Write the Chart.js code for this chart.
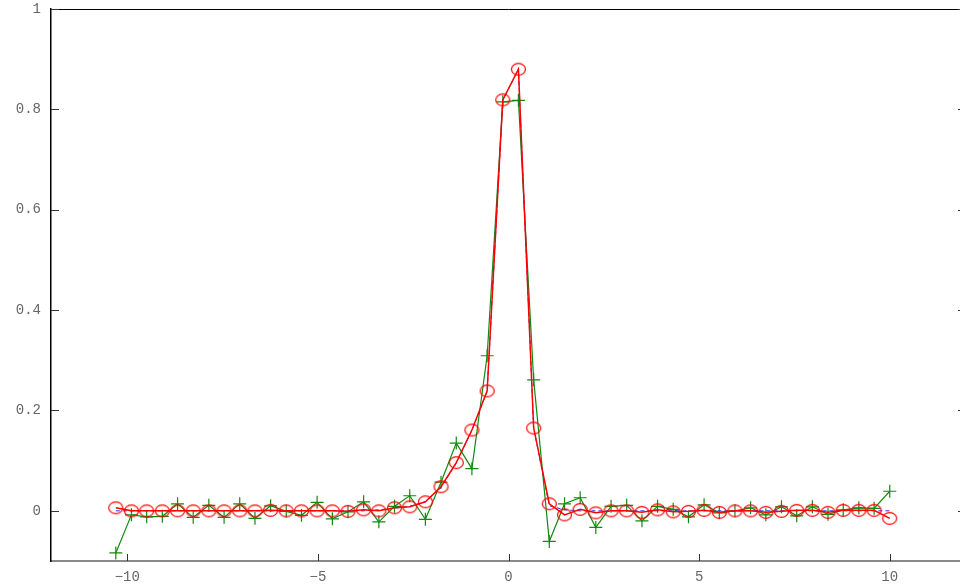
<!DOCTYPE html>
<html>
<head>
<meta charset="utf-8">
<script src="https://cdn.jsdelivr.net/npm/chart.js@4.4.1/dist/chart.umd.min.js"></script>
<style>
  html, body { margin: 0; padding: 0; background: #fff; overflow: hidden; }
  #wrap { width: 980px; height: 585px; }
</style>
</head>
<body>
<div id="wrap"><canvas id="plot" width="980" height="585"></canvas></div>
<script>
// sample positions
const xs = [-10.3, -9.89, -9.49, -9.08, -8.68, -8.27, -7.86, -7.46, -7.05, -6.65,
  -6.24, -5.83, -5.43, -5.02, -4.62, -4.21, -3.8, -3.4, -2.99, -2.59,
  -2.18, -1.77, -1.37, -0.96, -0.56, -0.15, 0.26, 0.66, 1.07, 1.47,
  1.88, 2.29, 2.69, 3.1, 3.5, 3.91, 4.32, 4.72, 5.13, 5.53,
  5.94, 6.35, 6.75, 7.16, 7.56, 7.97, 8.38, 8.78, 9.19, 9.59, 10];

// noisy samples (green +)
const noisy = [-0.084, -0.008, -0.012, -0.011, 0.014, -0.013, 0.011, -0.013, 0.014, -0.015,
  0.01, -0.001, -0.009, 0.017, -0.016, -0.002, 0.018, -0.022, 0.009, 0.03,
  -0.017, 0.057, 0.135, 0.084, 0.309, 0.815, 0.818, 0.261, -0.061, 0.014,
  0.026, -0.033, 0.009, 0.011, -0.02, 0.009, 0.003, -0.012, 0.012, -0.004,
  0, 0.006, -0.008, 0.008, -0.01, 0.008, -0.007, 0.002, 0.006, 0.005, 0.039];

// estimate (red o)
const est = [0.006, 0, 0, 0, 0, 0, 0, 0, 0, 0,
  0.001, 0, 0, 0, 0, -0.001, 0.002, 0, 0.006, 0.008,
  0.018, 0.048, 0.096, 0.161, 0.239, 0.819, 0.88, 0.165, 0.014, -0.008,
  0.003, -0.004, 0, 0, -0.003, 0.002, -0.002, -0.001, 0.001, -0.003,
  0, 0, -0.003, -0.001, 0.001, 0.001, -0.003, 0.001, 0.001, 0.001, -0.015];

// true signal (blue dashed)
const truth = [0, 0, 0, 0, 0, 0, 0, 0, 0, 0,
  0, 0, 0, 0, 0, 0, 0, 0.002, 0.005, 0.009,
  0.018, 0.046, 0.095, 0.16, 0.238, 0.818, 0.88, 0.165, 0.01, 0.002,
  0, 0, 0, 0, 0, 0, 0, 0, 0, 0,
  0, 0, 0, 0, 0, 0, 0, 0, 0, 0, 0];

const xTicks = [-10, -5, 0, 5, 10];
const xTickLabels = ['\u221210', '\u22125', '0', '5', '10'];
const yTicks = [0, 0.2, 0.4, 0.6, 0.8, 1];
const yTickLabels = ['0', '0.2', '0.4', '0.6', '0.8', '1'];

const pts = ys => xs.map((x, i) => ({ x: x, y: ys[i] }));

// open ellipse marker
const ring = document.createElement('canvas');
ring.width = 17; ring.height = 15;
(function () {
  const c = ring.getContext('2d');
  c.strokeStyle = '#ff0000';
  c.lineWidth = 1.2;
  c.beginPath();
  c.ellipse(8.5, 7.5, 7, 5.8, 0, 0, Math.PI * 2);
  c.stroke();
})();

// inward tick marks + top frame line
const frame = {
  id: 'frame',
  beforeInit(chart) { chart.ctx.letterSpacing = '1.5px'; },
  afterDraw(chart) {
    const ctx = chart.ctx, a = chart.chartArea;
    const sx = chart.scales.x, sy = chart.scales.y;
    ctx.save();
    ctx.lineWidth = 1;
    ctx.strokeStyle = '#000';
    ctx.beginPath();
    ctx.moveTo(a.left, a.top + 0.5);
    ctx.lineTo(a.right, a.top + 0.5);
    ctx.stroke();
    ctx.strokeStyle = '#333';
    ctx.beginPath();
    sy.ticks.forEach(t => {
      const p = Math.round(sy.getPixelForValue(t.value)) + 0.5;
      ctx.moveTo(a.left, p); ctx.lineTo(a.left + 8, p);
      ctx.moveTo(a.right - 8, p); ctx.lineTo(a.right, p);
    });
    sx.ticks.forEach(t => {
      const p = Math.round(sx.getPixelForValue(t.value)) + 0.5;
      ctx.moveTo(p, a.bottom); ctx.lineTo(p, a.bottom - 7);
    });
    ctx.stroke();
    ctx.restore();
  }
};

new Chart(document.getElementById('plot'), {
  type: 'line',
  data: {
    datasets: [
      {
        data: pts(est),
        borderColor: '#ff0000',
        borderWidth: 1.5,
        pointStyle: ring,
        pointRadius: 6,
        tension: 0
      },
      {
        data: pts(truth),
        borderColor: '#2a2aff',
        borderWidth: 1,
        borderDash: [4, 3],
        pointRadius: 0,
        tension: 0
      },
      {
        data: pts(noisy),
        borderColor: '#108a10',
        borderWidth: 1.2,
        pointStyle: 'cross',
        pointRadius: 6.5,
        pointBorderWidth: 1.2,
        tension: 0
      }
    ]
  },
  options: {
    responsive: false,
    animation: false,
    events: [],
    layout: { padding: { left: 0, right: 14, top: 0, bottom: 0 } },
    plugins: { legend: { display: false }, tooltip: { enabled: false } },
    scales: {
      x: {
        type: 'linear',
        min: -12,
        max: 12,
        afterBuildTicks: s => { s.ticks = xTicks.map(v => ({ value: v })); },
        afterFit: s => { s.height = 24; s.paddingLeft = 0; s.paddingRight = 0; },
        grid: { display: false, drawTicks: false },
        border: { display: true, color: '#888', width: 2 },
        ticks: {
          padding: 8,
          color: '#666',
          font: { family: 'Liberation Mono', size: 14 },
          maxRotation: 0,
          callback: (v) => xTickLabels[xTicks.indexOf(v)]
        }
      },
      y: {
        type: 'linear',
        min: -0.1,
        max: 1,
        afterBuildTicks: s => { s.ticks = yTicks.map(v => ({ value: v })); },
        afterFit: s => { s.width = 51; s.paddingTop = 9; s.paddingBottom = 0; },
        grid: { display: false, drawTicks: false },
        border: { display: true, color: '#000', width: 1.5 },
        ticks: {
          padding: 10,
          color: '#666',
          font: { family: 'Liberation Mono', size: 14 },
          callback: (v) => yTickLabels[yTicks.indexOf(v)]
        }
      }
    }
  },
  plugins: [frame]
});
</script>
</body>
</html>
